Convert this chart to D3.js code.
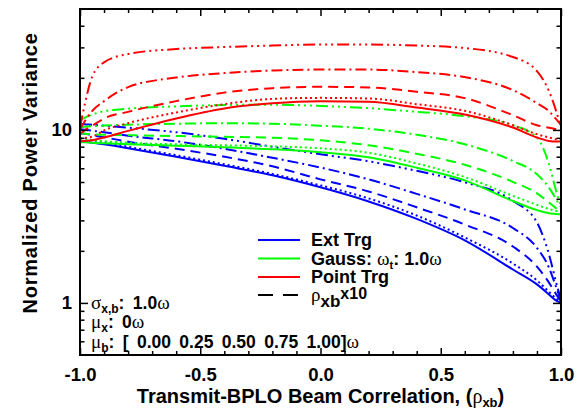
<!DOCTYPE html>
<html><head><meta charset="utf-8">
<script src="https://cdn.jsdelivr.net/npm/d3@7"></script>
<style>
body{margin:0;background:#fff}
svg{display:block}
text{font-family:"Liberation Sans",Arial,Helvetica,sans-serif;font-weight:bold;fill:#000}
.gk{font-family:"Liberation Serif","DejaVu Serif",serif;font-weight:normal}
</style>
</head><body>
<svg id="c" width="586" height="409"></svg>
<script>
// ---- data ----
const rhoXB = [-1, -0.98, -0.95, -0.9, -0.8, -0.6, -0.4, -0.2, 0, 0.2, 0.4, 0.6, 0.8, 0.9, 0.95, 0.98, 1];
const muB = [0.00, 0.25, 0.50, 0.75, 1.00];
const extTrg = [
  [8.60, 8.55, 8.43, 8.26, 7.83, 7.00, 6.20, 5.47, 4.66, 3.86, 3.06, 2.30, 1.56, 1.28, 1.12, 1.03, 1.00],
  [8.95, 8.89, 8.71, 8.49, 7.99, 7.14, 6.33, 5.57, 4.78, 4.02, 3.20, 2.39, 1.69, 1.35, 1.16, 1.06, 1.01],
  [9.57, 9.51, 9.32, 9.07, 8.55, 7.78, 7.00, 6.16, 5.18, 4.41, 3.57, 2.84, 2.12, 1.62, 1.31, 1.12, 1.02],
  [10.09, 10.03, 9.89, 9.70, 9.26, 8.60, 7.78, 6.90, 6.06, 5.18, 4.27, 3.47, 2.71, 2.08, 1.60, 1.23, 1.03],
  [10.86, 10.79, 10.72, 10.58, 10.30, 9.70, 8.89, 7.99, 7.23, 6.59, 5.80, 4.98, 3.89, 2.92, 1.91, 1.31, 1.04]
];
const gaussTrg = [
  [8.49, 8.49, 8.43, 8.37, 8.26, 8.10, 7.94, 7.73, 7.43, 6.95, 6.05, 5.11, 3.88, 3.44, 3.30, 3.27, 3.25],
  [8.83, 8.77, 8.71, 8.60, 8.43, 8.26, 8.15, 8.04, 7.83, 7.38, 6.40, 5.34, 4.16, 3.69, 3.49, 3.40, 3.34],
  [9.57, 9.51, 9.45, 9.38, 9.32, 9.22, 9.13, 9.01, 8.71, 8.15, 7.28, 6.29, 5.01, 4.30, 3.81, 3.52, 3.38],
  [10.37, 10.43, 10.50, 10.60, 10.72, 10.86, 10.94, 10.86, 10.58, 10.16, 9.38, 8.26, 6.61, 5.54, 4.64, 3.97, 3.57],
  [11.38, 11.77, 12.25, 12.83, 13.27, 13.68, 13.94, 14.00, 13.76, 13.36, 12.72, 12.01, 10.65, 9.04, 6.33, 4.43, 3.61]
];
const pointTrg = [
  [8.60, 8.63, 8.71, 9.04, 9.87, 11.64, 13.30, 14.28, 14.67, 14.53, 13.48, 12.28, 10.32, 9.04, 8.64, 8.57, 8.57],
  [8.95, 8.99, 9.13, 9.93, 10.94, 12.61, 14.09, 15.12, 15.32, 15.20, 14.09, 12.89, 10.65, 9.45, 9.04, 8.83, 8.79],
  [9.45, 9.96, 10.55, 11.64, 12.72, 14.67, 16.43, 17.44, 17.75, 17.61, 16.61, 15.27, 12.17, 10.65, 10.30, 10.09, 9.96],
  [10.09, 11.23, 12.83, 14.67, 17.68, 20.07, 21.31, 22.03, 22.33, 22.33, 21.59, 20.20, 16.98, 14.28, 12.83, 11.53, 10.65],
  [10.37, 14.09, 20.20, 24.58, 27.46, 29.35, 30.14, 30.74, 31.16, 31.16, 30.74, 29.74, 26.38, 21.88, 16.76, 12.83, 10.37]
];
const xTicks = [-1, -0.5, 0, 0.5, 1];
const xTickLabels = ["-1.0", "-0.5", "0.0", "0.5", "1.0"];
const xMinorTicks = [-0.9, -0.8, -0.7, -0.6, -0.4, -0.3, -0.2, -0.1, 0.1, 0.2, 0.3, 0.4, 0.6, 0.7, 0.8, 0.9];
const yTicks = [1, 10];
const yTickLabels = ["1", "10"];
const yMinorTicks = [0.6, 0.7, 0.8, 0.9, 2, 3, 4, 5, 6, 7, 8, 9, 20, 30, 40];
const seriesColors = ["#0000ff", "#00ff00", "#ff0000"];
const legendNames = ["Ext Trg", "Gauss", "Point Trg"];

// ---- layout ----
const L = 80, R = 561, T = 9, B = 355;
const svg = d3.select("#c");
const x = d3.scaleLinear().domain([-1, 1]).range([L, R]);
const y = d3.scaleLog().domain([0.5, 50]).range([B, T]);
const dashes = ["", "2,3", "10,6", "11,4,2,4", "12,4,2,4,2,4,2,4"];

svg.append("defs").append("clipPath").attr("id", "clip")
  .append("rect").attr("x", L).attr("y", T).attr("width", R - L).attr("height", B - T);

const line = d3.line().x((d, i) => x(rhoXB[i])).y(d => y(d)).curve(d3.curveMonotoneX);
const plot = svg.append("g").attr("clip-path", "url(#clip)");
[extTrg, gaussTrg, pointTrg].forEach((set, s) => {
  set.forEach((vals, k) => {
    plot.append("path").datum(vals).attr("d", line)
      .attr("fill", "none").attr("stroke", seriesColors[s]).attr("stroke-width", 2)
      .attr("stroke-dasharray", dashes[k] || null);
  });
});

// ---- axes ----
function clean(g) { g.select(".domain").remove(); g.selectAll("line").attr("stroke", "#000").attr("stroke-width", 1.5); g.selectAll("text").attr("font-size", 18.5).attr("font-family", null); }
svg.append("g").attr("transform", `translate(0,${B})`)
  .call(d3.axisBottom(x).tickValues(xTicks).tickSize(-7).tickPadding(13).tickFormat((d, i) => xTickLabels[i])).call(clean);
svg.append("g").attr("transform", `translate(0,${B})`)
  .call(d3.axisBottom(x).tickValues(xMinorTicks).tickSize(-4).tickFormat("")).call(clean);
svg.append("g").attr("transform", `translate(0,${T})`)
  .call(d3.axisTop(x).tickValues(xTicks).tickSize(-7).tickFormat("")).call(clean);
svg.append("g").attr("transform", `translate(0,${T})`)
  .call(d3.axisTop(x).tickValues(xMinorTicks).tickSize(-4).tickFormat("")).call(clean);
svg.append("g").attr("transform", `translate(${L},0)`)
  .call(d3.axisLeft(y).tickValues(yTicks).tickSize(-8).tickPadding(8).tickFormat((d, i) => yTickLabels[i])).call(clean);
svg.append("g").attr("transform", `translate(${L},0)`)
  .call(d3.axisLeft(y).tickValues(yMinorTicks).tickSize(-4.5).tickFormat("")).call(clean);
svg.append("g").attr("transform", `translate(${R},0)`)
  .call(d3.axisRight(y).tickValues(yTicks).tickSize(-8).tickFormat("")).call(clean);
svg.append("g").attr("transform", `translate(${R},0)`)
  .call(d3.axisRight(y).tickValues(yMinorTicks).tickSize(-4.5).tickFormat("")).call(clean);

svg.append("rect").attr("x", L).attr("y", T).attr("width", R - L).attr("height", B - T)
  .attr("fill", "none").attr("stroke", "#000").attr("stroke-width", 2);

// ---- titles ----
const xt = svg.append("text").attr("x", (L + R) / 2).attr("y", 403).attr("text-anchor", "middle").attr("font-size", 20);
xt.append("tspan").text("Transmit-BPLO Beam Correlation, (");
xt.append("tspan").attr("class", "gk").text("ρ");
xt.append("tspan").attr("font-size", 13).attr("dy", 4).text("xb");
xt.append("tspan").attr("dy", -4).text(")");

svg.append("text").attr("transform", "translate(37,173) rotate(-90)").attr("text-anchor", "middle")
  .attr("font-size", 20).attr("letter-spacing", 0.8).text("Normalized Power Variance");

// ---- legend ----
const lg = svg.append("g");
const legY = [240, 258.5, 277, 295];
seriesColors.forEach((c, i) => {
  lg.append("line").attr("x1", 258).attr("x2", 300).attr("y1", legY[i]).attr("y2", legY[i])
    .attr("stroke", c).attr("stroke-width", 2);
});
lg.append("line").attr("x1", 258).attr("x2", 300).attr("y1", legY[3]).attr("y2", legY[3])
  .attr("stroke", "#000").attr("stroke-width", 2).attr("stroke-dasharray", "15,10");
const lt = (i) => lg.append("text").attr("x", 311).attr("y", legY[i] + 6).attr("font-size", 18);
lt(0).text(legendNames[0]);
{
  const t = lt(1);
  t.append("tspan").text(legendNames[1] + ": ");
  t.append("tspan").attr("class", "gk").attr("font-size", 19).text("ω");
  t.append("tspan").attr("font-size", 11).attr("dy", 4).text("t");
  t.append("tspan").attr("dy", -4).text(": 1.0");
  t.append("tspan").attr("class", "gk").attr("font-size", 19).text("ω");
}
lt(2).text(legendNames[2]);
{
  const t = lt(3);
  t.append("tspan").attr("class", "gk").attr("font-size", 19).text("ρ");
  t.append("tspan").attr("font-size", 17).attr("dy", 6).text("xb");
  t.append("tspan").attr("font-size", 16).attr("dy", -8).text("x10");
}

// ---- annotations ----
function annot(yb, greek, sub, rest) {
  const t = svg.append("text").attr("x", 91).attr("y", yb).attr("font-size", 17.5)
    .attr("word-spacing", 3.5).style("white-space", "pre");
  t.append("tspan").attr("class", "gk").attr("font-size", 19).text(greek);
  t.append("tspan").attr("font-size", 12).attr("dy", 4).text(sub);
  t.append("tspan").attr("dy", -4).text(rest);
  t.append("tspan").attr("class", "gk").attr("font-size", 19).text("ω");
}
annot(309, "σ", "x,b", ": 1.0");
annot(328, "μ", "x", ": 0");
annot(348, "μ", "b", ": [ " + muB.map(v => v.toFixed(2)).join(" ") + "]");
</script>
</body></html>
